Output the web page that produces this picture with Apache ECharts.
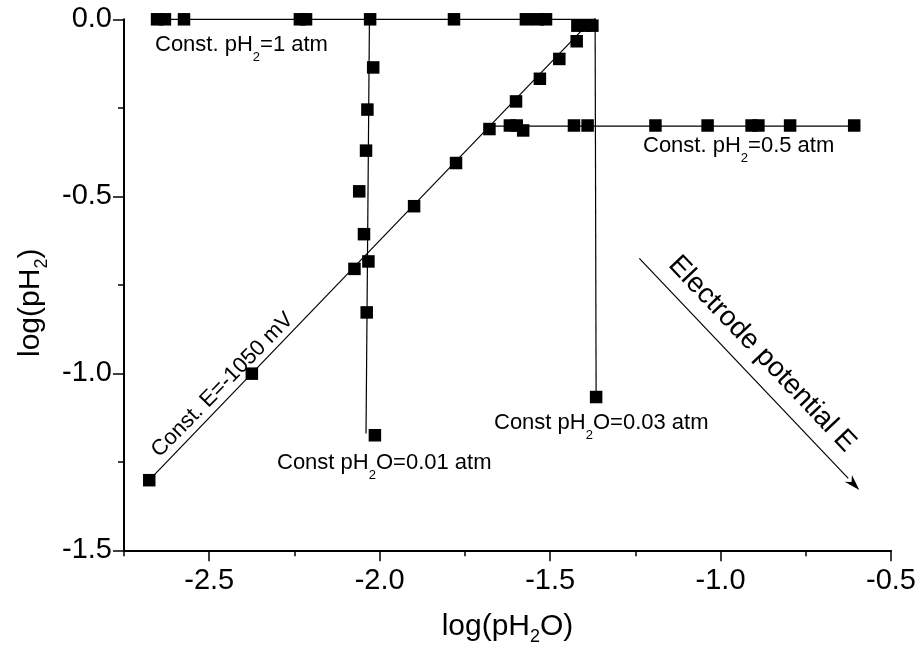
<!DOCTYPE html>
<html><head><meta charset="utf-8">
<script src="https://cdn.jsdelivr.net/npm/echarts@6/dist/echarts.min.js"></script>
<style>html,body{margin:0;padding:0;background:#fff}#c{width:922px;height:652px}</style>
</head><body><div id="c"></div>
<script>
// ---- tick labels ----
const xMajorTicks = [-2.5, -2.0, -1.5, -1.0, -0.5];
const yMajorTicks = [0.0, -0.5, -1.0, -1.5];

// ---- measured points [log(pH2O), log(pH2)] ----
const ptsH2_1atm = [[-2.653,0],[-2.630,0],[-2.574,0],[-2.234,0],[-2.216,0],[-2.028,0],[-1.782,0],[-1.571,0],[-1.536,0],[-1.512,0]];
const ptsH2O_001 = [[-2.019,-0.136],[-2.036,-0.255],[-2.040,-0.371],[-2.060,-0.486],[-2.046,-0.607],[-2.033,-0.684],[-2.038,-0.828],[-2.014,-1.175]];
const ptsConstE = [[-2.676,-1.302],[-2.375,-1.001],[-2.074,-0.705],[-1.899,-0.528],[-1.776,-0.406],[-1.678,-0.310],[-1.600,-0.232],[-1.530,-0.168],[-1.473,-0.112],[-1.422,-0.062],[-1.420,-0.018],[-1.398,-0.018],[-1.376,-0.018]];
const ptsH2_05atm = [[-1.618,-0.300],[-1.598,-0.300],[-1.579,-0.314],[-1.430,-0.300],[-1.390,-0.300],[-1.191,-0.300],[-1.038,-0.300],[-0.909,-0.300],[-0.889,-0.300],[-0.796,-0.300],[-0.608,-0.300]];
const ptsH2O_003 = [[-1.365,-1.067]];

// ---- guide lines ----
const lineH2_1atm = [[-2.665,0],[-1.368,0]];
const lineH2O_001 = [[-2.030,0],[-2.040,-1.170]];
const lineConstE = [[-2.676,-1.302],[-1.398,-0.022]];
const lineH2_05atm = [[-1.678,-0.302],[-0.590,-0.302]];
const lineH2O_003 = [[-1.368,0.004],[-1.365,-1.067]];

const FONT = 'Liberation Sans, Arial, Helvetica, sans-serif';
const chart = echarts.init(document.getElementById('c'), null, {renderer: 'canvas'});

function fmt(v){ return v.toFixed(1); }
function axisPair(dim, min, max, majors, extra){
  const base = {
    type: 'value', min: min, max: max, interval: 0.25,
    position: dim === 'x' ? 'bottom' : 'left',
    splitLine: {show: false},
  };
  const a0 = Object.assign({}, base, {
    axisLine: {show: true, onZero: false, lineStyle: {color: '#000', width: 2}},
    axisTick: {show: true, inside: false, length: 6, lineStyle: {color: '#000', width: 1.5}},
    axisLabel: {show: true, customValues: majors, formatter: fmt, color: '#000', fontFamily: FONT, fontSize: 29, margin: dim === 'x' ? 16 : 12},
  }, extra);
  const a1 = Object.assign({}, base, {
    axisLine: {show: false, onZero: false},
    axisTick: {show: true, inside: false, length: 11, customValues: majors, lineStyle: {color: '#000', width: 1.5}},
    axisLabel: {show: false},
  });
  return [a0, a1];
}

const richName = {
  a: {fontFamily: FONT, fontSize: 30, lineHeight: 34, color: '#000', verticalAlign: 'top'},
  s: {fontFamily: FONT, fontSize: 18, lineHeight: 20, color: '#000', verticalAlign: 'top', padding: [17, 0, 0, 0]}
};
const richAnn = {
  a: {fontFamily: FONT, fontSize: 22, lineHeight: 26, fill: '#000', verticalAlign: 'top'},
  s: {fontFamily: FONT, fontSize: 13, lineHeight: 15, fill: '#000', verticalAlign: 'top', padding: [17, 0, 0, 0]}
};

const lineStyle = {color: '#000', width: 1.2};
function lineSeries(data){
  return {type: 'line', data: data, xAxisIndex: 0, yAxisIndex: 0, showSymbol: false, symbol: 'none',
    lineStyle: lineStyle, silent: true, z: 2, clip: false, animation: false};
}
function ptSeries(data){
  return {type: 'scatter', data: data, xAxisIndex: 0, yAxisIndex: 0, symbol: 'rect', symbolSize: 12.5,
    itemStyle: {color: '#000', opacity: 1}, silent: true, z: 3, clip: false, animation: false};
}

function annText(x, y, text){
  return {
    type: 'text', x: x, y: y, silent: true, z: 10,
    style: {text: text, rich: richAnn, fill: '#000', font: '22px ' + FONT, align: 'left', verticalAlign: 'top'}
  };
}

// arrow geometry (annotation, pixels)
const arrowStart = [639.3, 258.3], arrowTip = [859.3, 490];
const dx = arrowTip[0]-arrowStart[0], dy = arrowTip[1]-arrowStart[1];
const L = Math.hypot(dx, dy), ux = dx/L, uy = dy/L, nx = -uy, ny = ux;
const headLen = 16, headHalf = 5;
const base = [arrowTip[0]-ux*headLen, arrowTip[1]-uy*headLen];

const option = {
  backgroundColor: '#fff',
  animation: false,
  grid: {left: 124, top: 19.3, right: 31, bottom: 101.7, containLabel: false, outerBoundsMode: 'none'},
  xAxis: axisPair('x', -2.75, -0.5, xMajorTicks, {
    name: '{a|log(pH}{s|2}{a|O)}', nameLocation: 'middle', nameGap: 61,
    nameTextStyle: {rich: richName, fontFamily: FONT, fontSize: 30, color: '#000', padding: [0, 0, 0, 0]}
  }),
  yAxis: axisPair('y', -1.5, 0, yMajorTicks, {
    name: '{a|log(pH}{s|2}{a|)}', nameLocation: 'middle', nameGap: 72, nameRotate: 90,
    nameTextStyle: {rich: richName, fontFamily: FONT, fontSize: 30, color: '#000', padding: [0, 36, 0, 0]}
  }),
  series: [
    lineSeries(lineH2_1atm), lineSeries(lineH2O_001), lineSeries(lineConstE),
    lineSeries(lineH2_05atm), lineSeries(lineH2O_003),
    ptSeries(ptsH2_1atm), ptSeries(ptsH2O_001), ptSeries(ptsConstE),
    ptSeries(ptsH2_05atm), ptSeries(ptsH2O_003)
  ],
  graphic: [
    annText(155, 34.4, '{a|Const. pH}{s|2}{a|=1 atm}'),
    annText(643, 135.4, '{a|Const. pH}{s|2}{a|=0.5 atm}'),
    annText(277, 452, '{a|Const pH}{s|2}{a|O=0.01 atm}'),
    annText(494, 412, '{a|Const pH}{s|2}{a|O=0.03 atm}'),
    {type: 'text', x: 222.5, y: 385, rotation: 45.6*Math.PI/180, silent: true, z: 10,
      style: {text: 'Const. E=-1050 mV', fill: '#000', font: '22px ' + FONT, align: 'center', verticalAlign: 'middle'}},
    {type: 'text', x: 762, y: 354, rotation: -46.5*Math.PI/180, silent: true, z: 10,
      style: {text: 'Electrode potential E', fill: '#000', font: '28px ' + FONT, align: 'center', verticalAlign: 'middle'}},
    {type: 'line', silent: true, z: 10,
      shape: {x1: arrowStart[0], y1: arrowStart[1], x2: base[0], y2: base[1]},
      style: {stroke: '#000', lineWidth: 1.2}},
    {type: 'polygon', silent: true, z: 10,
      shape: {points: [arrowTip, [base[0]+nx*headHalf, base[1]+ny*headHalf], [arrowTip[0]-ux*headLen*0.7, arrowTip[1]-uy*headLen*0.7], [base[0]-nx*headHalf, base[1]-ny*headHalf]]},
      style: {fill: '#000'}}
  ]
};
chart.setOption(option);
</script>
</body></html>
